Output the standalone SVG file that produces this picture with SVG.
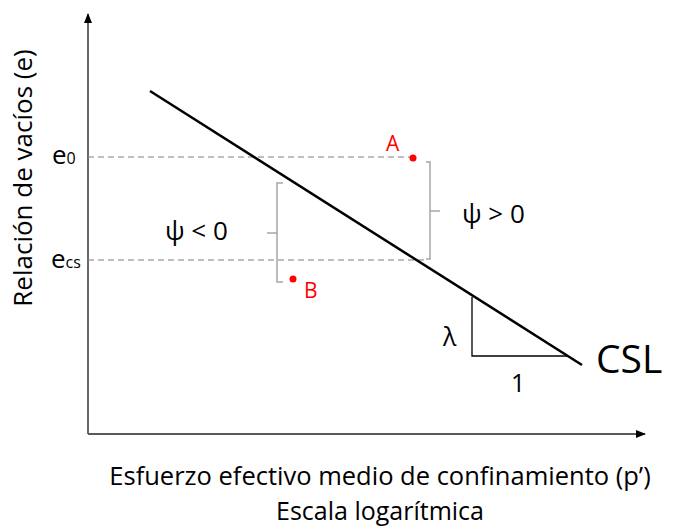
<svg xmlns="http://www.w3.org/2000/svg" width="675" height="529" viewBox="0 0 675 529">
<style>
text{font-family:"Open Sans","Liberation Sans",sans-serif;fill:#000}
.red{fill:#ff0000}
.dash{stroke:#7f7f7f;stroke-width:1;stroke-dasharray:6 4;fill:none}
.brk{stroke:#a6a6a6;stroke-width:1.5;fill:none}
.ax{stroke:#595959;stroke-width:1.8;fill:none}
</style>
<defs>
<marker id="ah" markerWidth="10" markerHeight="8" refX="9" refY="4" orient="auto" markerUnits="userSpaceOnUse">
<path d="M0,0 L10,4 L0,8 Z" fill="#000"/>
</marker>
</defs>
<g id="connectors">
<line class="ax" x1="88" y1="434" x2="88" y2="14" marker-end="url(#ah)"/>
<line class="ax" x1="88" y1="434" x2="645" y2="434" marker-end="url(#ah)"/>
<line class="dash" x1="88" y1="157" x2="413" y2="157"/>
<line class="dash" x1="88" y1="260" x2="428" y2="260"/>
<line x1="150" y1="91" x2="582" y2="365" stroke="#000" stroke-width="2.5"/>
<path class="brk" d="M426,162 H430 V259 H426 M430,211 H440"/>
<path class="brk" d="M283,183 H277 V282 H283 M277,233 H267"/>
<path d="M472,297 V356 H567" stroke="#000" stroke-width="1.3" fill="none"/>
</g>
<g id="pointA">
<circle cx="413" cy="158" r="3.5" fill="#ff0000"/>
<text class="red" x="386" y="151" font-size="21">A</text>
</g>
<g id="pointB">
<circle cx="293" cy="279" r="3.5" fill="#ff0000"/>
<text class="red" x="304" y="298" font-size="21">B</text>
</g>
<g id="labels">
<text x="52" y="164" font-size="26">e<tspan font-size="16">0</tspan></text>
<text x="51" y="268" font-size="26">e<tspan font-size="16">cs</tspan></text>
<text x="462" y="223" font-size="26">ψ &gt; 0</text>
<text x="165" y="240" font-size="26">ψ &lt; 0</text>
<text x="443" y="346" font-size="25">λ</text>
<text x="511" y="392" font-size="25">1</text>
<text x="596" y="373" font-size="39">CSL</text>
<text transform="translate(32,178) rotate(-90)" text-anchor="middle" font-size="26">Relación de vacíos (e)</text>
<text x="380" y="485" text-anchor="middle" font-size="25.5">Esfuerzo efectivo medio de confinamiento (p’)</text>
<text x="380" y="520" text-anchor="middle" font-size="25">Escala logarítmica</text>
</g>
</svg>
